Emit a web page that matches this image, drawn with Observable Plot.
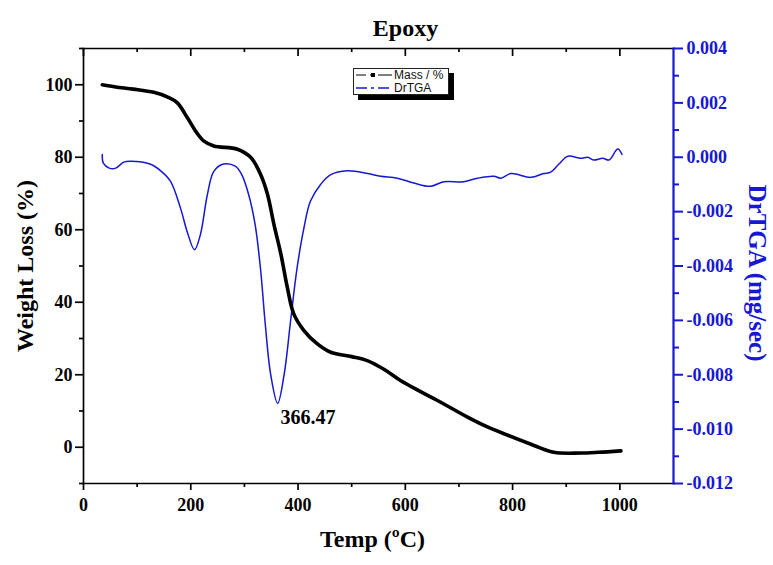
<!DOCTYPE html>
<html>
<head>
<meta charset="utf-8">
<script src="https://cdn.jsdelivr.net/npm/d3@7"></script>
<script src="https://cdn.jsdelivr.net/npm/@observablehq/plot@0.6"></script>
<style>
  html, body { margin: 0; padding: 0; background: #fff; }
  #wrap { position: relative; width: 773px; height: 565px; }
  #legend {
    position: absolute; left: 353px; top: 68px; width: 96px; height: 27px;
    border: 1px solid #222; background: #fff; box-shadow: 5px 5px 0 #000;
    font-family: "Liberation Sans", Arial, sans-serif; font-size: 12px; color: #111;
    box-sizing: border-box; padding-top: 0px; overflow: visible;
  }
  #legend .row { display: flex; align-items: center; height: 12.5px; line-height: 12.5px; white-space: nowrap; }
  #legend svg { margin: 0 1px 0 1px; flex: none; }
</style>
</head>
<body>
<div id="wrap">
  <div id="chart"></div>
  <div id="legend"></div>
</div>
<script>
// ---- Data ----
const title = "Epoxy";
const xLabel = "Temp (ºC)";
const yLabel = "Weight Loss (%)";
const y2Label = "DrTGA (mg/sec)";
const massName = "Mass / %";
const drName = "DrTGA";
const peakTemp = 366.47;

const massTemp = [35, 60, 93, 131, 157, 175, 194, 210, 224, 243, 287, 312, 330, 343, 355, 368, 380, 392, 411, 436, 461, 500, 529, 560, 591, 625, 660, 716, 750, 791, 840, 877, 927, 960, 1002];
const massVal  = [100, 99.4, 98.8, 97.9, 96.6, 95, 90.8, 87, 84.5, 83.1, 82.2, 79.9, 75.3, 69.8, 61.5, 53.3, 44.1, 36.8, 32.2, 28.5, 26.2, 25.0, 23.9, 21.5, 18.4, 15.6, 12.9, 8.3, 5.8, 3.3, 0.5, -1.4, -1.6, -1.4, -1.0];

const drTemp = [35, 37, 48, 60, 75, 88, 125, 144, 162, 181, 193, 207, 218, 231, 243, 261, 283, 295, 308, 320, 330, 339, 349, 362, 374, 386, 398, 411, 423, 442, 461, 492, 530, 554, 585, 616, 647, 672, 709, 735, 765, 778, 797, 834, 858, 871, 886, 903, 927, 940, 951, 968, 980, 996, 1004];
const drVal  = [0.0001, -0.00022, -0.0004, -0.0004, -0.00018, -0.00015, -0.00026, -0.0005, -0.00088, -0.00188, -0.00272, -0.0034, -0.00284, -0.00137, -0.00052, -0.00025, -0.00033, -0.00064, -0.00138, -0.00248, -0.0041, -0.00616, -0.008, -0.00905, -0.008, -0.00604, -0.0041, -0.0026, -0.00162, -0.001, -0.00064, -0.0005, -0.0006, -0.0007, -0.00077, -0.00095, -0.00107, -0.0009, -0.0009, -0.00077, -0.0007, -0.00077, -0.0006, -0.00074, -0.0006, -0.00055, -0.00026, 0.00004, -0.00004, 0, -0.0001, -0.00004, -0.0001, 0.0003, 0.0001];

const xDomain = [0, 1100];
const xMajor = [0, 200, 400, 600, 800, 1000];
const xMinor = [100, 300, 500, 700, 900];
const yDomain = [-10, 110];
const yMajor = [0, 20, 40, 60, 80, 100];
const yMinor = [-10, 10, 30, 50, 70, 90, 110];
const y2Domain = [-0.012, 0.004];
const y2Major = [-0.012, -0.010, -0.008, -0.006, -0.004, -0.002, 0, 0.002, 0.004];
const y2Minor = [-0.011, -0.009, -0.007, -0.005, -0.003, -0.001, 0.001, 0.003];

// ---- Build ----
const W = 773, H = 565, MT = 48, ML = 83, MR = 100, MB = 82;
const PW = W - ML - MR, PH = H - MT - MB;
const BLUE = "#1717d4";
const toLeft = v => yDomain[0] + (v - y2Domain[0]) / (y2Domain[1] - y2Domain[0]) * (yDomain[1] - yDomain[0]);
const fromLeft = m => y2Domain[0] + (m - yDomain[0]) / (yDomain[1] - yDomain[0]) * (y2Domain[1] - y2Domain[0]);
const fmt2 = m => { let v = Math.round(fromLeft(m) * 1e6) / 1e6; if (Math.abs(v) < 1e-9) v = 0; return v.toFixed(3); };

const massData = massTemp.map((t, i) => ({t, m: massVal[i]}));
const drData = drTemp.map((t, i) => ({t, v: drVal[i]}));
const peak = drData.reduce((a, b) => (b.v < a.v ? b : a));

const tickFont = {fontSize: 18, fontWeight: "bold"};
const SW = 1.7;
const noText = () => "";

const chart = Plot.plot({
  width: W,
  height: H,
  marginTop: MT,
  marginLeft: ML,
  marginRight: MR,
  marginBottom: MB,
  x: {domain: xDomain},
  y: {domain: yDomain},
  style: {fontFamily: "'Liberation Serif', 'Times New Roman', serif", background: "#fff", color: "#000", overflow: "visible"},
  marks: [
    // curves
    Plot.line(drData, {x: "t", y: d => toLeft(d.v), stroke: BLUE, strokeWidth: 1.5, curve: "catmull-rom"}),
    Plot.line(massData, {x: "t", y: "m", stroke: "#000", strokeWidth: 3.6, curve: "catmull-rom"}),
    // frame
    Plot.frame({anchor: "left", stroke: "#000", strokeWidth: SW}),
    Plot.frame({anchor: "top", stroke: "#000", strokeWidth: SW}),
    Plot.frame({anchor: "bottom", stroke: "#000", strokeWidth: SW}),
    Plot.frame({anchor: "right", stroke: BLUE, strokeWidth: 2.2}),
    // top ticks (inward)
    Plot.tickX(xMajor, {x: d => d, stroke: "#000", strokeWidth: SW, insetBottom: PH - 8}),
    Plot.tickX(xMinor, {x: d => d, stroke: "#000", strokeWidth: SW, insetBottom: PH - 4}),
    // bottom axis (outward ticks)
    Plot.axisX({anchor: "bottom", ticks: xMajor, tickSize: 7, tickPadding: 8, stroke: "#000", strokeWidth: SW, tickFormat: d => String(d), label: null, ...tickFont}),
    Plot.axisX({anchor: "bottom", ticks: xMinor, tickSize: 4, stroke: "#000", strokeWidth: SW, tickFormat: noText, label: null}),
    // left axis
    Plot.axisY({anchor: "left", ticks: yMajor, tickSize: 8, tickPadding: 3, stroke: "#000", strokeWidth: SW, tickFormat: d => String(d), label: null, ...tickFont}),
    Plot.axisY({anchor: "left", ticks: yMinor, tickSize: 4, stroke: "#000", strokeWidth: SW, tickFormat: noText, label: null}),
    // right axis (DrTGA, blue)
    Plot.axisY({anchor: "right", ticks: y2Major.map(toLeft), tickFormat: fmt2, tickSize: 9, tickPadding: 4, stroke: BLUE, strokeWidth: 2, fill: BLUE, label: null, ...tickFont}),
    Plot.axisY({anchor: "right", ticks: y2Minor.map(toLeft), tickFormat: noText, tickSize: 5, stroke: BLUE, strokeWidth: 2, label: null}),
    // labels
    Plot.text([title], {frameAnchor: "top", textAnchor: "middle", dx: 27, dy: -30, fontSize: 24, fontWeight: "bold"}),
    Plot.text([xLabel], {frameAnchor: "bottom", textAnchor: "middle", dx: -6, dy: 63, fontSize: 24, fontWeight: "bold"}),
    Plot.text([yLabel], {frameAnchor: "left", textAnchor: "middle", dx: -58, dy: 0, rotate: -90, fontSize: 24, fontWeight: "bold"}),
    Plot.text([y2Label], {frameAnchor: "right", textAnchor: "middle", dx: 83, dy: 7, rotate: 90, fontSize: 25, fontWeight: "bold", fill: BLUE}),
    // peak annotation
    Plot.text([peak], {x: () => peakTemp, y: d => toLeft(d.v), text: () => String(peakTemp), textAnchor: "middle", dx: 28, dy: 14, fontSize: 20, fontWeight: "bold"})
  ]
});
document.getElementById("chart").appendChild(chart);

// legend
const legend = document.getElementById("legend");
legend.innerHTML = `
  <div class="row"><svg width="38" height="8"><line x1="1" y1="4" x2="37" y2="4" stroke="#000" stroke-width="1.2" stroke-dasharray="10 4 4 4 14"/><rect x="16" y="2" width="4" height="4" fill="#000"/></svg><span>${massName}</span></div>
  <div class="row"><svg width="38" height="8"><line x1="1" y1="4" x2="37" y2="4" stroke="${BLUE}" stroke-width="1.4" stroke-dasharray="11 4 3 4"/></svg><span>${drName}</span></div>`;
</script>
</body>
</html>
